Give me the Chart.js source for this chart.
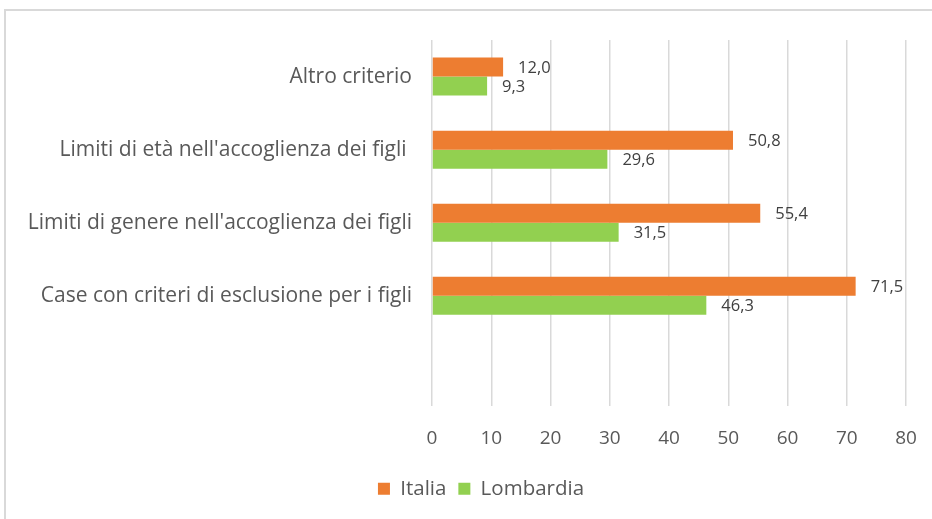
<!DOCTYPE html>
<html>
<head>
<meta charset="utf-8">
<script src="https://cdn.jsdelivr.net/npm/chart.js@4"></script>
<style>
  body { margin: 0; background: #fff; overflow: hidden; }
  #wrap { position: relative; width: 932px; height: 519px; }
  #cornice { position: absolute; left: 4px; top: 9px; width: 940px; height: 520px;
             border-left: 2px solid #d9d9d9; border-top: 2px solid #d9d9d9; }
  canvas { position: absolute; left: 0; top: 0; }
</style>
</head>
<body>
<div id="wrap">
  <div id="cornice"></div>
  <canvas id="grafico" width="932" height="519"></canvas>
</div>
<script>
// categorie dall'alto verso il basso (l'ultima è vuota come nell'originale)
const categorie = [
  'Altro criterio',
  "Limiti di età nell'accoglienza dei figli ",
  "Limiti di genere nell'accoglienza dei figli",
  'Case con criteri di esclusione per i figli',
  ''
];
const italia = [12.0, 50.8, 55.4, 71.5, null];
const lombardia = [9.3, 29.6, 31.5, 46.3, null];
const tacche = [0, 10, 20, 30, 40, 50, 60, 70, 80];

const FONT = '"Open Sans", sans-serif';
const GRIGIO = '#595959';

// etichette dei valori a destra delle barre
const etichette = {
  id: 'etichette',
  afterLayout(chart) {
    // la legenda nell'originale è un po' spostata a destra
    chart.legend.left += 28;
    chart.legend.right += 28;
  },
  afterDatasetsDraw(chart) {
    const ctx = chart.ctx;
    ctx.save();
    ctx.font = '16.5px ' + FONT;
    ctx.fillStyle = '#404040';
    ctx.textBaseline = 'middle';
    ctx.textAlign = 'left';
    chart.data.datasets.forEach(function (ds, i) {
      chart.getDatasetMeta(i).data.forEach(function (bar, j) {
        const v = ds.data[j];
        if (v == null) return;
        ctx.fillText(v.toFixed(1).replace('.', ','), bar.x + 15, bar.y + 1);
      });
    });
    ctx.restore();
  }
};

const data = {
  labels: categorie,
  datasets: [
    {
      label: 'Italia',
      data: italia,
      backgroundColor: '#ED7D31',
      categoryPercentage: 0.52,
      barPercentage: 1
    },
    {
      label: 'Lombardia',
      data: lombardia,
      backgroundColor: '#92D050',
      categoryPercentage: 0.52,
      barPercentage: 1
    }
  ]
};

const config = {
  type: 'bar',
  data: data,
  options: {
    indexAxis: 'y',
    responsive: false,
    animation: false,
    layout: { padding: { top: 40, right: 26, bottom: 10, left: 0 } },
    scales: {
      x: {
        min: 0,
        max: 80,
        afterBuildTicks: function (scale) {
          scale.ticks = tacche.map(function (v) { return { value: v }; });
        },
        afterFit: function (scale) { scale.height = 61; },
        grid: { color: '#d9d9d9', lineWidth: 1.5, drawTicks: true, tickLength: 18, tickColor: 'rgba(0,0,0,0)' },
        border: { display: false },
        ticks: { color: GRIGIO, font: { size: 19, family: FONT }, padding: 4 }
      },
      y: {
        afterFit: function (scale) { scale.width = 432; },
        grid: { display: false },
        border: { display: false },
        ticks: { color: GRIGIO, font: { size: 21, family: FONT }, padding: 12 }
      }
    },
    plugins: {
      legend: {
        position: 'bottom',
        labels: {
          color: GRIGIO,
          font: { size: 20.5, family: FONT },
          boxWidth: 12,
          boxHeight: 12,
          padding: 12
        }
      },
      tooltip: { enabled: false }
    }
  },
  plugins: [etichette]
};

const grafico = new Chart(document.getElementById('grafico'), config);
</script>
</body>
</html>
